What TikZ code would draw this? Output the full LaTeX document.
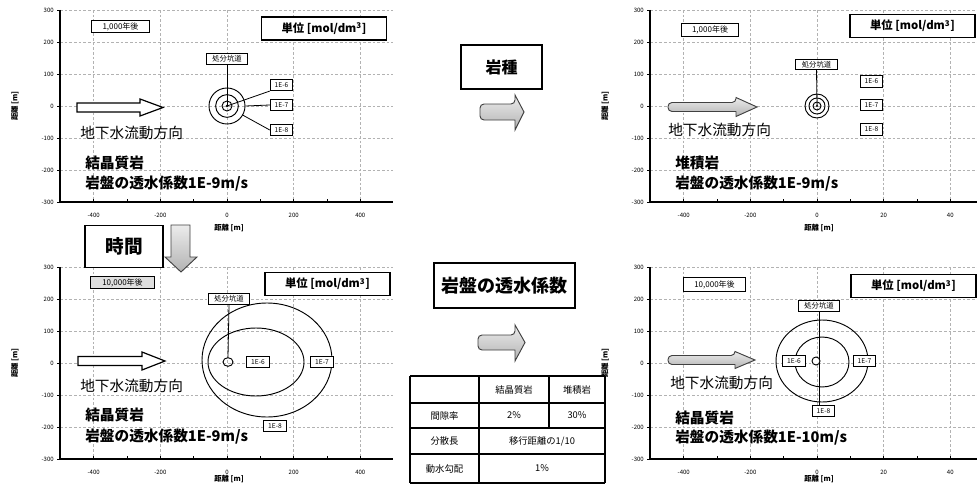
\documentclass[tikz,border=0pt]{standalone}
\usepackage{fontspec}
\setmainfont{Noto Sans CJK JP}
\usepackage{tikz}
\usetikzlibrary{shapes.geometric}

\tikzset{
  gridline/.style={draw=gray!60, line width=0.4pt, dash pattern=on 2pt off 1.5pt},
  axisline/.style={line width=1.1pt},
  tlabel/.style={inner sep=0.75pt, font=\fontsize{4.5}{5}\selectfont},
  axtitle/.style={inner sep=0.75pt, font=\bfseries\fontsize{5.5}{6}\selectfont},
  yearbox/.style={draw, line width=0.7pt, fill=white, inner sep=0.75pt, minimum width=43pt, minimum height=9.5pt, font=\fontsize{6}{7}\selectfont},
  unitbox/.style={draw, line width=1.2pt, fill=white, inner sep=0.75pt, minimum width=94pt, minimum height=17pt, font=\bfseries\fontsize{8.5}{9}\selectfont},
  tagbox/.style={draw, line width=0.6pt, fill=white, inner sep=0.5pt, minimum width=31pt, minimum height=8pt, font=\fontsize{5.5}{6}\selectfont},
  lvlbox/.style={draw, line width=0.6pt, fill=white, inner sep=0.5pt, minimum width=17pt, minimum height=8.5pt, font=\fontsize{5}{6}\selectfont},
  ringnode/.style={circle, draw, line width=0.7pt, inner sep=0pt},
  flowtext/.style={anchor=west, inner sep=0.75pt, font=\fontsize{11}{12}\selectfont},
  rocktext/.style={anchor=west, inner sep=0.75pt, font=\bfseries\fontsize{11}{12}\selectfont},
  openarrow/.style={draw, line width=0.9pt, fill=white},
  grayarrow/.style={draw=black!75, line width=0.7pt, top color=gray!15, bottom color=gray!60},
  titlebox/.style={draw, line width=0.9pt, fill=white, inner sep=0.75pt, font=\bfseries\fontsize{12}{13}\selectfont},
  cell/.style={inner sep=0.75pt, font=\fontsize{7}{8}\selectfont},
  ring/.style={line width=0.7pt},
  leader/.style={line width=0.6pt},
}

\begin{document}
\begin{tikzpicture}[x=0.75pt,y=0.75pt,yscale=-1,xscale=1]
        \path[use as bounding box] (0,0) rectangle (977,485);

        % Plot frames (top left, top right, bottom left, bottom right)
        \foreach \dx/\dy/\xa/\xb/\ty [count=\p] in {0/0/200/400/228,590/0/20/40/228,0/257/200/400/222,590/257/20/40/222}{
          \begin{scope}[shift={(\dx,\dy)}]
            \foreach \gy in {10,42,74,106,138,170}
              \draw[gridline] (60,\gy) -- (393,\gy);
            \foreach \gx in {93.7,160.3,227,293.7,360.3}
              \draw[gridline] (\gx,10) -- (\gx,202);
            \foreach \tx in {93.7,127,160.3,193.7,227,260.3,293.7,327,360.3}
              \draw[line width=0.6pt] (\tx,202) -- (\tx,199);
            \foreach \gy in {10,42,74,106,138,170,202}
              \draw[line width=0.6pt] (57,\gy) -- (60,\gy);
            \draw[axisline] (60,10) -- (60,202) -- (393,202);
            \foreach \v/\gy [count=\k] in {300/10,200/42,100/74,0/106,-100/138,-200/170,-300/202}
              \node[tlabel, anchor=east] (yl\p-\k) at (55,\gy) {\v};
            \foreach \v/\gx [count=\k] in {-400/93.7,-200/160.3,0/227,\xa/293.7,\xb/360.3}
              \node[tlabel] (xl\p-\k) at (\gx,215) {\v};
            \node[axtitle] (xt\p) at (229,\ty) {距離 [m]};
            \node[axtitle, rotate=90] (yt\p) at (15,106) {距離 [m]};
          \end{scope}
        }

        % Top left: crystalline rock, 1,000 years
        \node[yearbox] (yrA) at (120.5,26.5) {1,000年後};
        \node[unitbox] (unA) at (324,28.5) {単位 [mol/dm\textsuperscript{3}]};
        \node[ringnode, minimum size=27pt] (rA3) at (227,106) {};
        \node[ringnode, minimum size=17pt] (rA2) at (227,106) {};
        \node[ringnode, minimum size=7.5pt] (rA1) at (227,106) {};
        \fill (rA1.center) circle [radius=1.4];
        \node[tagbox] (tgA) at (227,59) {処分坑道};
        \draw[leader] (tgA.south) -- (rA1.center);
        \node[lvlbox] (lvA6) at (281.5,85) {1E-6};
        \node[lvlbox] (lvA7) at (281.5,105) {1E-7};
        \node[lvlbox] (lvA8) at (281.5,130) {1E-8};
        \draw[leader] (lvA6.south west) -- (rA1.center);
        \draw[leader] (lvA7.west) -- (rA3.east);
        \draw[leader] (lvA8.west) -- (rA3.-30);
        \draw[openarrow] (77,103) -- (140,103) -- (140,99) -- (163,107.5) -- (140,116) -- (140,112) -- (77,112) -- cycle;
        \node[flowtext] (flA) at (79,133) {地下水流動方向};
        \node[rocktext] (rkA) at (84,163) {結晶質岩};
        \node[rocktext] (pmA) at (84,184) {岩盤の透水係数1E-9m/s};

        % Top right: sedimentary rock, 1,000 years
        \node[yearbox] (yrB) at (710,30) {1,000年後};
        \node[unitbox] (unB) at (912.5,26) {単位 [mol/dm\textsuperscript{3}]};
        \node[ringnode, minimum size=18pt] (rB3) at (817,106) {};
        \node[ringnode, minimum size=12pt] (rB2) at (817,106) {};
        \node[ringnode, minimum size=6pt] (rB1) at (817,106) {};
        \fill (rB1.center) circle [radius=1.2];
        \node[tagbox] (tgB) at (816.5,64.5) {処分坑道};
        \draw[leader] (tgB.south) -- (rB1.center);
        \node[lvlbox] (lvB6) at (871.5,81.5) {1E-6};
        \node[lvlbox] (lvB7) at (871.5,105) {1E-7};
        \node[lvlbox] (lvB8) at (871.5,129.5) {1E-8};
        \draw[grayarrow, rounded corners=3pt] (668,102.5) -- (736,102.5) [sharp corners] -- (736,97.5) -- (757,107) -- (736,116.5) -- (736,111.5) [rounded corners=3pt] -- (668,111.5) -- cycle;
        \node[flowtext] (flB) at (667,130) {地下水流動方向};
        \node[rocktext] (rkB) at (674,163) {堆積岩};
        \node[rocktext] (pmB) at (674,184) {岩盤の透水係数1E-9m/s};

        % Bottom left: crystalline rock, 10,000 years
        \node[yearbox, fill=gray!25, minimum width=48pt, minimum height=8.5pt] (yrC) at (122.5,282.5) {10,000年後};
        \node[unitbox] (unC) at (327.5,284) {単位 [mol/dm\textsuperscript{3}]};
        \draw[ring] (267,360) ellipse [x radius=65, y radius=57];
        \draw[ring] (256,362) ellipse [x radius=48, y radius=34];
        \node[ringnode, ellipse, minimum width=7.5pt, minimum height=6.5pt] (cC) at (228,362) {};
        \node[tagbox] (tgC) at (229,299) {処分坑道};
        \draw[leader] (tgC.south) -- (cC.north);
        \node[lvlbox] (lvC6) at (258,362) {1E-6};
        \node[lvlbox] (lvC7) at (322,362) {1E-7};
        \node[lvlbox] (lvC8) at (275,426) {1E-8};
        \draw[openarrow] (78,356.5) -- (142,356.5) -- (142,352) -- (165,361) -- (142,370) -- (142,365.5) -- (78,365.5) -- cycle;
        \node[flowtext] (flC) at (79,386) {地下水流動方向};
        \node[rocktext] (rkC) at (84,415) {結晶質岩};
        \node[rocktext] (pmC) at (84,437) {岩盤の透水係数1E-9m/s};

        % Bottom right: crystalline rock, lower permeability
        \node[yearbox, minimum width=47pt, minimum height=11pt] (yrD) at (714.5,284.5) {10,000年後};
        \node[unitbox] (unD) at (913.5,286) {単位 [mol/dm\textsuperscript{3}]};
        \draw[ring] (822,361) ellipse [x radius=46, y radius=41];
        \draw[ring] (822,362) ellipse [x radius=27, y radius=25];
        \node[tagbox] (tgD) at (819,306) {処分坑道};
        \node[lvlbox] (lvD8) at (823.5,411) {1E-8};
        \draw[leader] (tgD.south) -- (tgD.south |- lvD8.north);
        \node[ringnode, minimum size=6pt, fill=white] (cD) at (816,361) {};
        \node[lvlbox] (lvD6) at (794,361) {1E-6};
        \node[lvlbox] (lvD7) at (864.5,361) {1E-7};
        \draw[grayarrow, rounded corners=3pt] (668,355.5) -- (735,355.5) [sharp corners] -- (735,351.5) -- (755,360) -- (735,368.5) -- (735,364.5) [rounded corners=3pt] -- (668,364.5) -- cycle;
        \node[flowtext] (flD) at (669,383) {地下水流動方向};
        \node[rocktext] (rkD) at (674,418) {結晶質岩};
        \node[rocktext] (pmD) at (674,438) {岩盤の透水係数1E-10m/s};

        % Middle: rock type
        \node[titlebox, minimum width=60.75pt, minimum height=33pt] (kind) at (501.5,67) {岩種};
        \draw[grayarrow, rounded corners=3pt] (480,104) -- (515,104) [sharp corners] -- (515,95) -- (524,112) -- (515,130) -- (515,120) [rounded corners=3pt] -- (480,120) -- cycle;

        % Time
        \node[titlebox, minimum width=58.5pt, minimum height=32pt, font=\bfseries\fontsize{14}{15}\selectfont] (time) at (124,246.5) {時間};
        \draw[grayarrow] (171,225) -- (190,225) -- (190,257) -- (197,257) -- (181,272) -- (165,257) -- (171,257) -- cycle;

        % Middle: permeability
        \node[titlebox, minimum width=105.75pt, minimum height=33.75pt, font=\bfseries\fontsize{13.5}{14}\selectfont] (perm) at (504.5,285.5) {岩盤の透水係数};
        \draw[grayarrow, rounded corners=3pt] (478,335) -- (515,335) [sharp corners] -- (515,325) -- (525,342.5) -- (515,361) -- (515,350) [rounded corners=3pt] -- (478,350) -- cycle;

        % Table of parameters
        \draw[line width=1pt] (410,376) -- (605,376);
        \draw[line width=1pt] (410,403) -- (605,403);
        \draw[line width=1pt] (410,428) -- (605,428);
        \draw[line width=1pt] (410,454) -- (605,454);
        \draw[line width=1pt] (410,483) -- (605,483);
        \draw[line width=1pt] (410,376) -- (410,483);
        \draw[line width=1pt] (479,376) -- (479,483);
        \draw[line width=1pt] (549,376) -- (549,428);
        \draw[line width=1pt] (605,376) -- (605,483);
        \node[cell] (hd1) at (514,389.5) {結晶質岩};
        \node[cell] (hd2) at (577,389.5) {堆積岩};
        \node[cell] (rw1) at (444.5,415.5) {間隙率};
        \node[cell] (v11) at (514,415.5) {2\%};
        \node[cell] (v12) at (577,415.5) {30\%};
        \node[cell] (rw2) at (444.5,441) {分散長};
        \node[cell] (v2) at (542,441) {移行距離の1/10};
        \node[cell] (rw3) at (444.5,468.5) {動水勾配};
        \node[cell] (v3) at (542,468.5) {1\%};

\end{tikzpicture}
\end{document}
